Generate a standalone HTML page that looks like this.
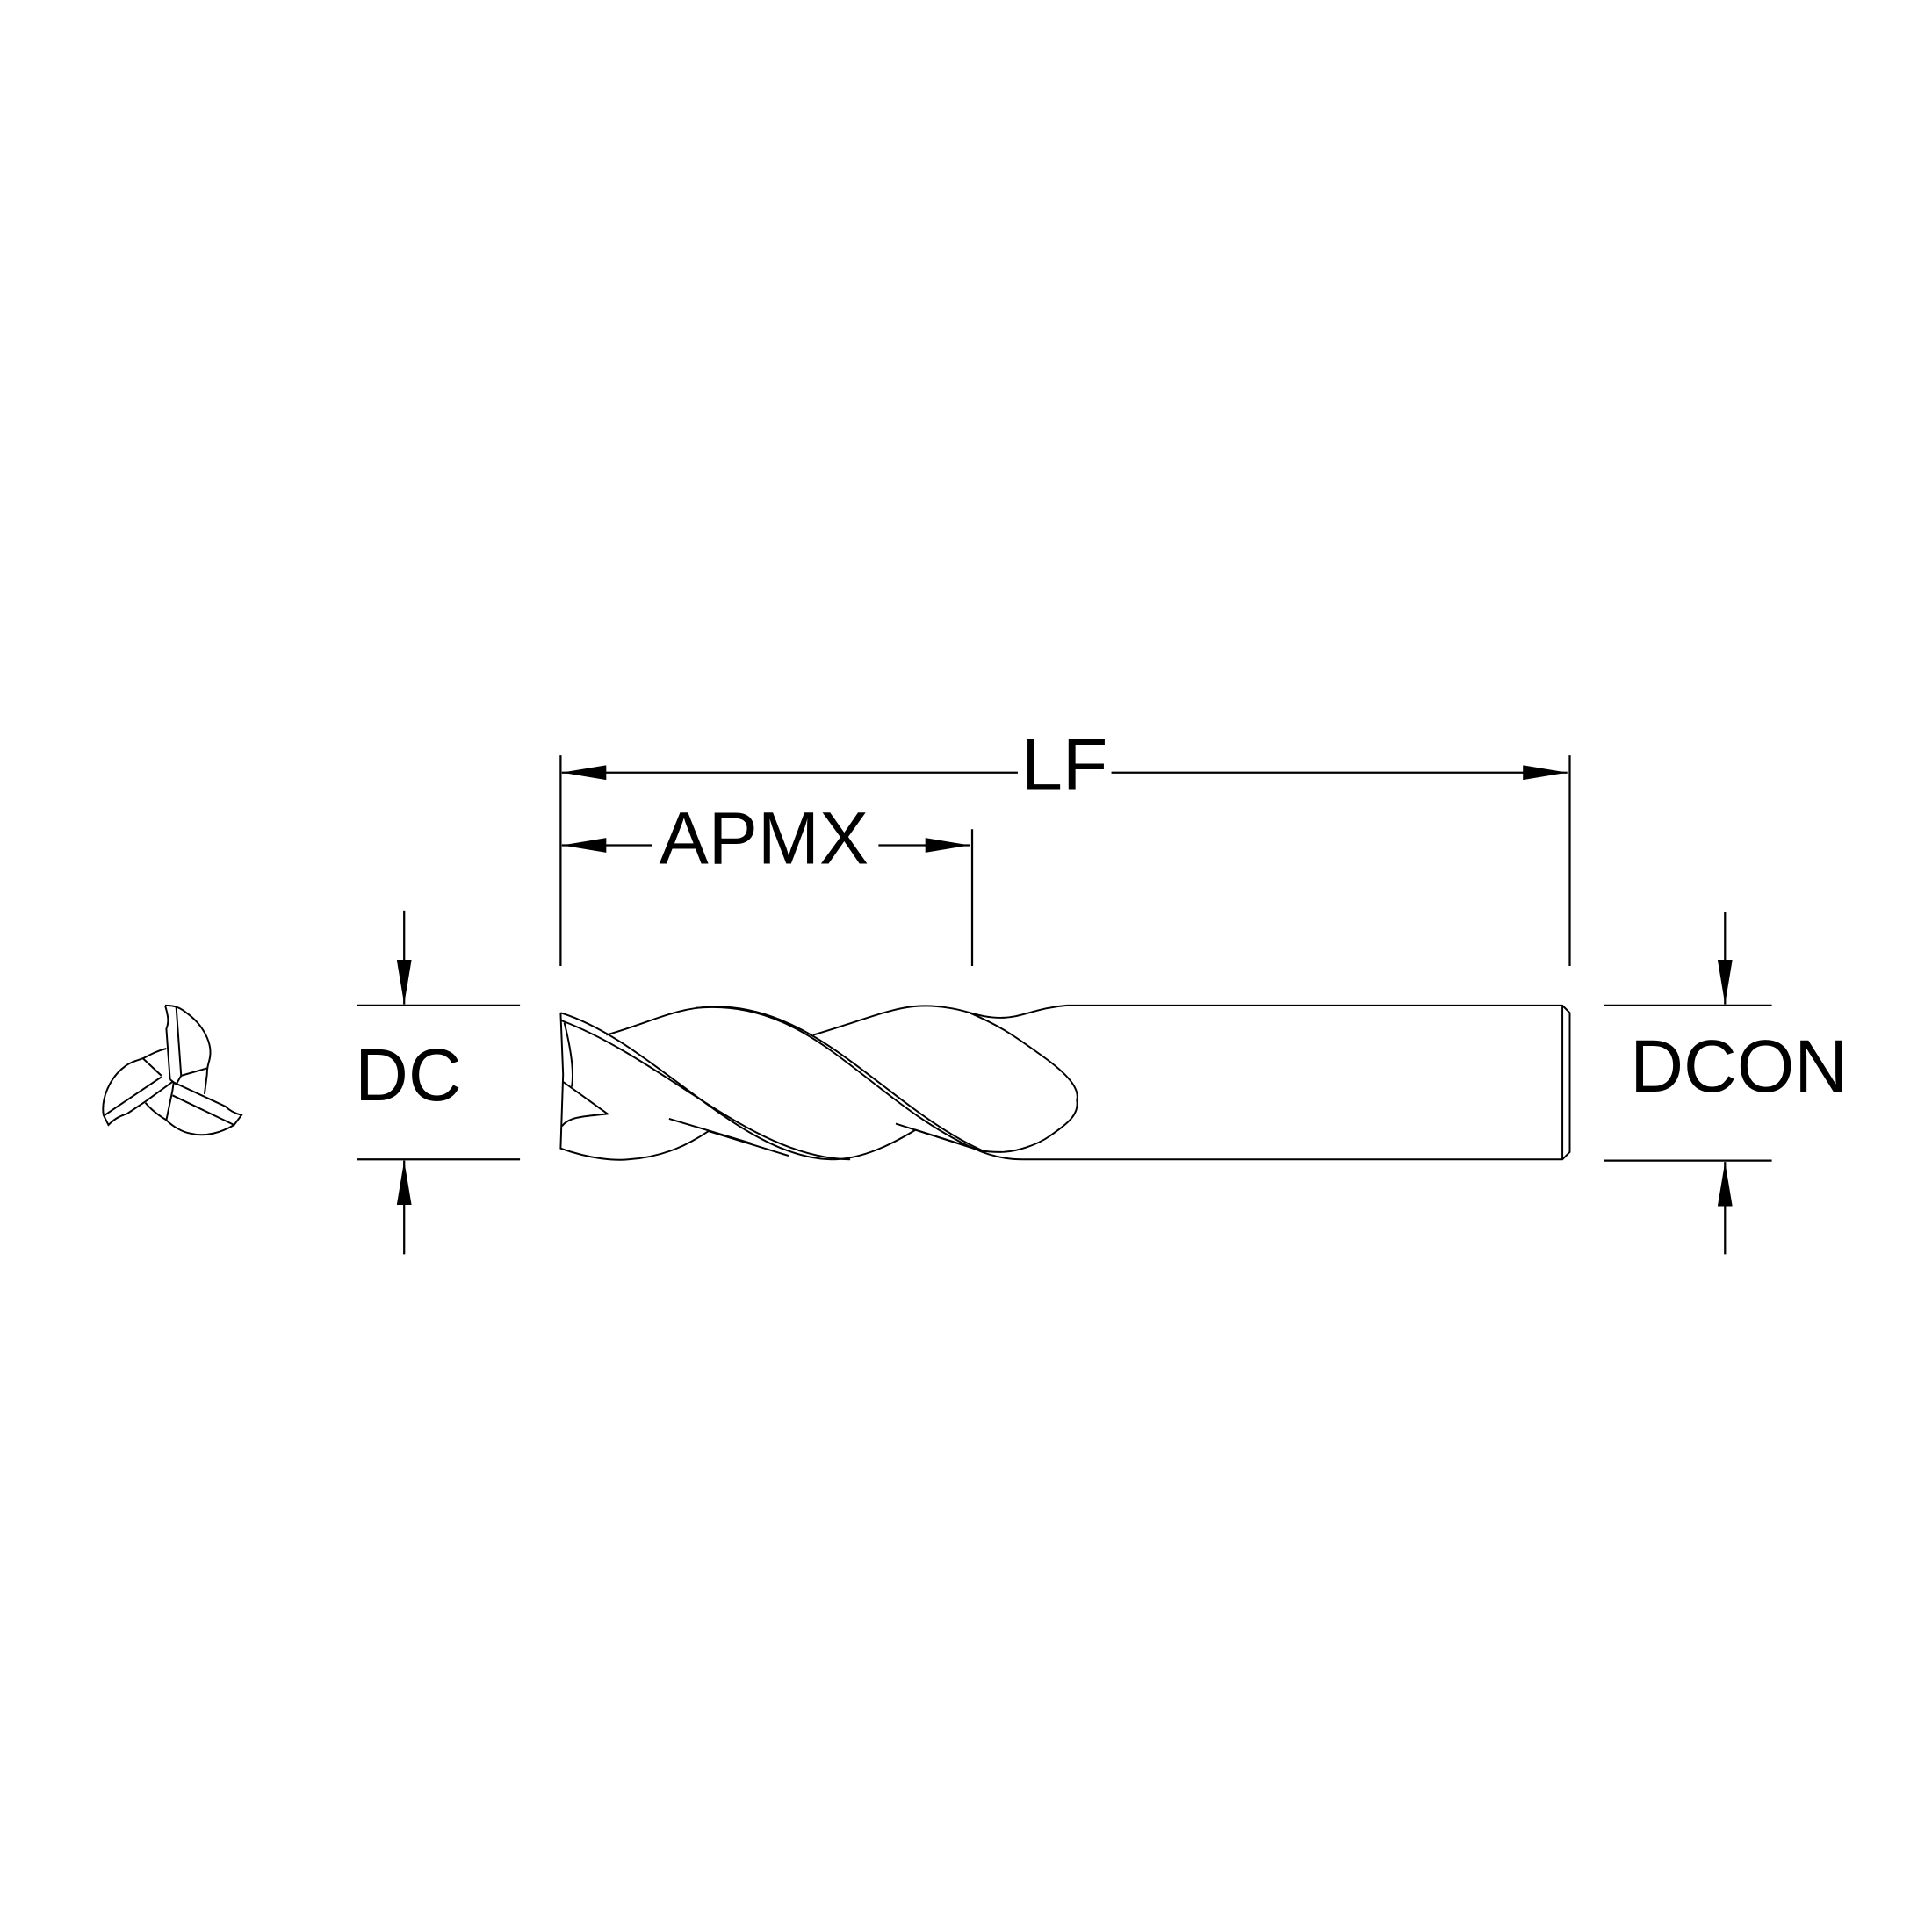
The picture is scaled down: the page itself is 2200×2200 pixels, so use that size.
<!DOCTYPE html>
<html><head><meta charset="utf-8"><style>html,body{margin:0;padding:0;background:#fff}svg{display:block}</style></head>
<body>
<svg width="2200" height="2200" viewBox="0 0 1568 1568" xmlns="http://www.w3.org/2000/svg">
<defs>
<marker id="a" viewBox="0 0 36 12" refX="36" refY="6" markerWidth="36" markerHeight="12" markerUnits="userSpaceOnUse" orient="auto"><path d="M0,0 L36,6 L0,12 Z" fill="#000"/></marker>
</defs>
<g stroke="#000" stroke-width="1.6" fill="none">
<!-- LF -->
<line x1="455" y1="613" x2="455" y2="784"/>
<line x1="1274" y1="613" x2="1274" y2="784"/>
<line x1="826" y1="627" x2="456" y2="627" marker-end="url(#a)"/>
<line x1="902" y1="627" x2="1272" y2="627" marker-end="url(#a)"/>
<!-- APMX -->
<line x1="789" y1="673" x2="789" y2="784"/>
<line x1="529" y1="686" x2="456" y2="686" marker-end="url(#a)"/>
<line x1="713" y1="686" x2="787" y2="686" marker-end="url(#a)"/>
<!-- DC -->
<line x1="290" y1="816" x2="422" y2="816"/>
<line x1="290" y1="941" x2="422" y2="941"/>
<line x1="328" y1="739" x2="328" y2="815" marker-end="url(#a)"/>
<line x1="328" y1="1018" x2="328" y2="942" marker-end="url(#a)"/>
<!-- DCON -->
<line x1="1302" y1="816" x2="1438" y2="816"/>
<line x1="1302" y1="942" x2="1438" y2="942"/>
<line x1="1400" y1="740" x2="1400" y2="815" marker-end="url(#a)"/>
<line x1="1400" y1="1018" x2="1400" y2="943" marker-end="url(#a)"/>
</g>
<g stroke="#000" stroke-width="1.4" fill="none">
<!-- shank -->
<path d="M866,816 L1268,816 L1274,822 L1274,935 L1268,941 L830,941"/>
<line x1="1268" y1="816" x2="1268" y2="941"/>
<path d="M866,816 C840,818 830,826 812,826 C795,826 785,820 770,818 C735,812 720,822 660,840"/>
<!-- flutes -->
<path d="M455,822 C530,845 600,940 675,941"/>
<path d="M455,828 C540,860 610,940 690,941"/>
<path d="M565,818 C660,810 700,890 790,932"/>
<path d="M578,817 C665,815 720,900 800,935"/>
<path d="M492,840 C530,829 548,818 578,817"/>
<path d="M787,822 C810,832 820,838 850,860 C870,875 876,885 874,893 C876,905 866,912 852,922 C842,929 825,935 812,935 C795,935 790,932 785,930"/>
<path d="M455,822 L457,872 L455,932 C480,941 500,942 510,941 C540,939 560,928 575,918 L640,938"/>
<path d="M458,830 C463,850 466,870 464,882"/>
<path d="M457,878 L493,904 C475,906 462,906 456,914"/>
<path d="M543,908 L610,928"/>
<path d="M727,912 L790,932 C805,939 818,941 830,941"/>
<path d="M675,941 C700,941 725,928 743,917 L800,935"/>
<!-- end view -->
<path d="M134,816 C137,826 137,830 135,835 L138,876"/>
<path d="M134,816 C140,816 145,817 150,821 C166,832 173,848 170,860 C169,864 168,866 168,872 L166,888"/>
<path d="M143,817 L147,873"/>
<path d="M147,873 L168,867"/>
<path d="M135,851 C127,853 122,856 116,859 L131,873"/>
<path d="M116,859 C110,861 106,862 102,865 C88,875 82,893 84,905 L88,913 C92,909 96,906 103,904 L118,894 L140,878"/>
<path d="M85,905 L131,874"/>
<path d="M118,895 C123,901 130,906 135,909 L140,885 L141,878"/>
<path d="M140,878 L183,898 C187,902 192,904 196,905 L190,913 L140,889"/>
<path d="M135,909 C140,914 148,919 155,920 C167,923 180,919 190,913"/>
<path d="M138,876 L143,880 L147,873"/>
</g>
<g font-family="Liberation Sans, sans-serif" font-size="60" fill="#000">
<text x="829" y="641">LF</text>
<text x="535" y="701">APMX</text>
<text x="288" y="893">DC</text>
<text x="1323" y="886">DCON</text>
</g>
</svg>
</body></html>
